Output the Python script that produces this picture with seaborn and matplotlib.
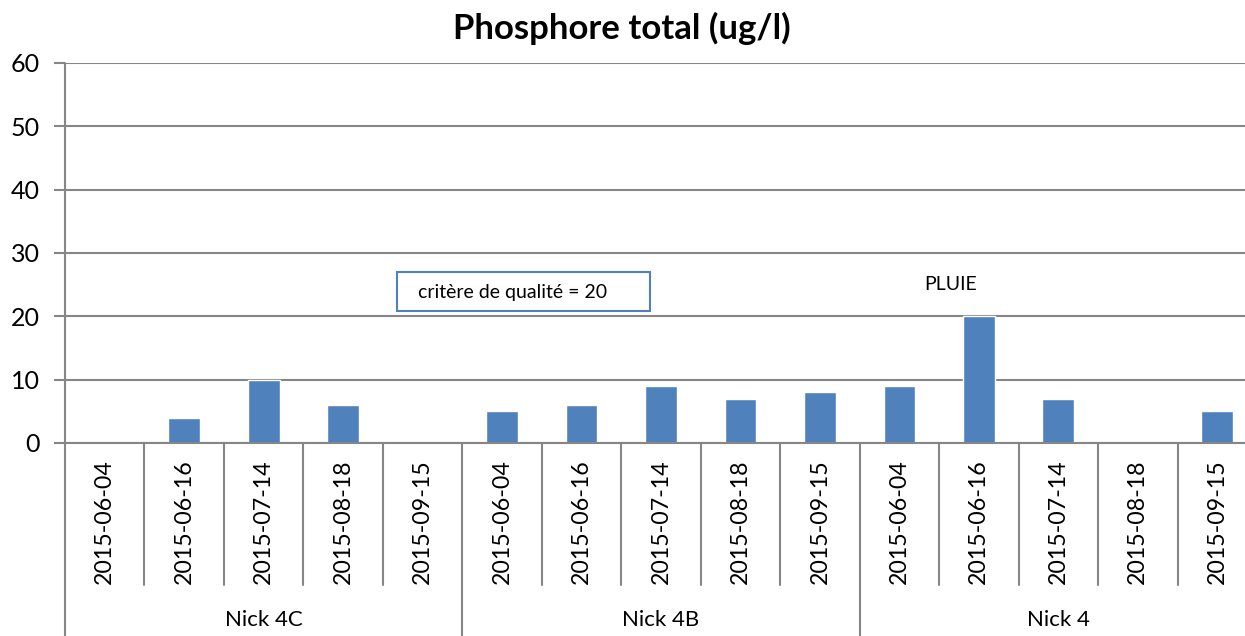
import numpy as np
import pandas as pd
import matplotlib
matplotlib.use("Agg")
import matplotlib.pyplot as plt
import matplotlib.transforms as mtransforms
from matplotlib.patches import Rectangle
import seaborn as sns

# ---- data ----
groups = ["Nick 4C", "Nick 4B", "Nick 4"]
dates = ["2015-06-04", "2015-06-16", "2015-07-14", "2015-08-18", "2015-09-15"]
values_4c = [np.nan, 4, 10, 6, np.nan]
values_4b = [5, 6, 9, 7, 8]
values_4 = [9, 20, 7, np.nan, 5]
title = "Phosphore total (ug/l)"
y_ticks = [0, 10, 20, 30, 40, 50, 60]
box_text = "critère de qualité = 20"
note_text = "PLUIE"

rows = []
for g, vals in zip(groups, [values_4c, values_4b, values_4]):
    for d, v in zip(dates, vals):
        rows.append({"key": f"{g}|{d}", "group": g, "date": d, "value": v})
df = pd.DataFrame(rows)
order = list(df["key"])

sns.set_theme(style="white")
plt.rcParams["font.family"] = ["Lato", "DejaVu Sans"]

W, H = 1245, 636
fig = plt.figure(figsize=(W / 100, H / 100), dpi=100)
ax = fig.add_axes([65 / W, (H - 443) / H, (1257 - 65) / W, 380 / H])

blue = "#4F81BD"
grid_c = "#868686"
sns.barplot(data=df, x="key", y="value", order=order, color=blue,
            width=0.4, ax=ax, errorbar=None, saturation=1)

ax.set_xlim(-0.5, len(order) - 0.5)
ax.set_ylim(0, 60)
ax.set_yticks(y_ticks)
ax.set_yticklabels([str(t) for t in y_ticks], fontsize=18, color="black")
ax.yaxis.grid(True, color=grid_c, linewidth=1.5)
ax.set_axisbelow(True)
ax.set_xlabel("")
ax.set_ylabel("")
ax.set_xticks([])
for s in ["top", "right"]:
    ax.spines[s].set_visible(False)
ax.spines["left"].set_visible(False)
ax.spines["bottom"].set_color(grid_c)
ax.spines["bottom"].set_linewidth(1.5)
ax.tick_params(axis="y", direction="out", length=8, width=1.5, color=grid_c, pad=10, left=True)

# left axis line extending to bottom of figure
blend = mtransforms.blended_transform_factory(ax.transData, fig.transFigure)
ax.plot([-0.5, -0.5], [0.0, (H - 63) / H], transform=blend, color=grid_c,
        linewidth=1.5, clip_on=False)

n = len(order)
for i in range(1, n + 1):
    xb = i - 0.5
    if i % len(dates) == 0:
        y0 = 0.0
    else:
        y0 = (H - 585) / H
    ax.plot([xb, xb], [y0, (H - 443) / H], transform=blend, color=grid_c,
            linewidth=1.5, clip_on=False)

for i, k in enumerate(order):
    d = df.loc[i, "date"]
    ax.text(i, (H - 459) / H, d, transform=blend, rotation=90, ha="center",
            va="top", fontsize=16.7, color="black", clip_on=False)

for gi, g in enumerate(groups):
    xc = gi * len(dates) + (len(dates) - 1) / 2
    ax.text(xc, (H - 620) / H, g, transform=blend, ha="center", va="center",
            fontsize=16, color="black", clip_on=False)

fig.text(622 / W, (H - 28) / H, title, ha="center", va="center",
         fontsize=25, fontweight="bold", color="black")

# quality criterion box
fig.patches.append(Rectangle((397 / W, (H - 311) / H), (650 - 397) / W, 39 / H,
                             transform=fig.transFigure, facecolor="white",
                             edgecolor=blue, linewidth=1.5))
fig.text(418 / W, (H - 293) / H, box_text, ha="left", va="center",
         fontsize=14, color="black")

# PLUIE annotation near the 2015-06-16 Nick 4 bar
idx = order.index("Nick 4|2015-06-16")
ax.text(idx - 0.35, 25.0, note_text, ha="center", va="center", fontsize=14, color="black")

fig.savefig("out.png", dpi=100)
